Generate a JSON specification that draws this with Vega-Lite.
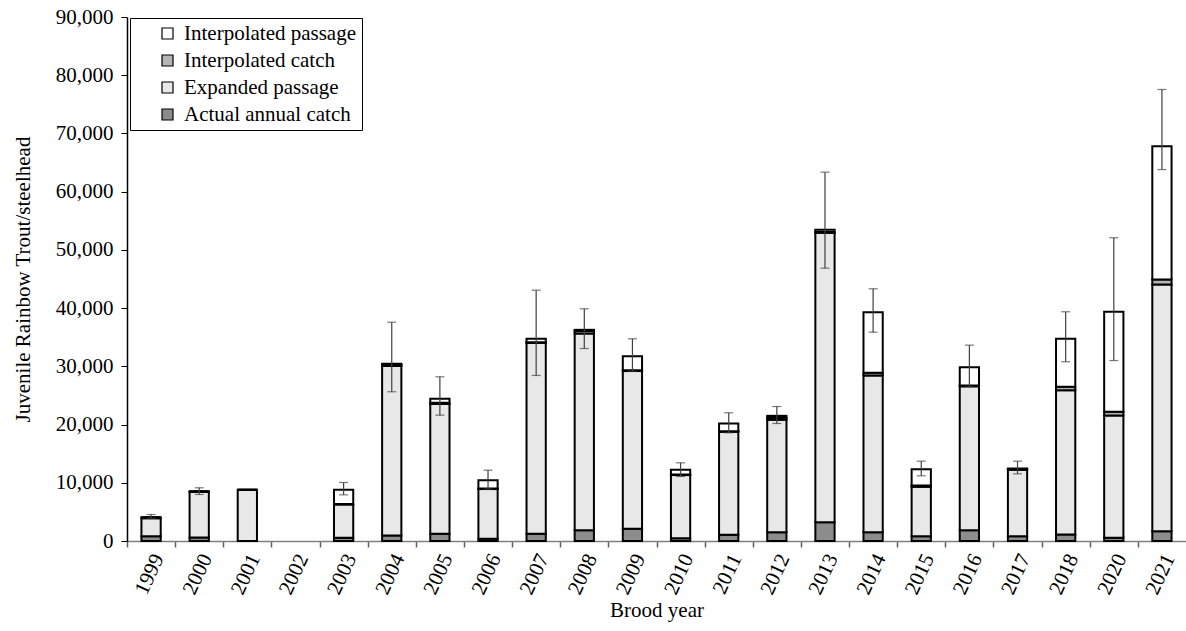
{
  "$schema": "https://vega.github.io/schema/vega-lite/v6.json",
  "width": 1059,
  "height": 524,
  "autosize": {"type": "none"},
  "padding": {"left": 127, "top": 17, "right": 0, "bottom": 90},
  "background": "white",
  "config": {
    "font": "'Liberation Serif', 'Times New Roman', serif",
    "view": {"stroke": null},
    "axis": {"grid": false, "labelFont": "'Liberation Serif', 'Times New Roman', serif", "titleFont": "'Liberation Serif', 'Times New Roman', serif"},
    "legend": {
      "orient": "none",
      "legendX": 3,
      "legendY": 1,
      "labelFontSize": 21,
      "labelFont": "'Liberation Serif', 'Times New Roman', serif",
      "labelColor": "black",
      "labelLimit": 0,
      "symbolType": "square",
      "symbolSize": 121,
      "symbolStrokeColor": "black",
      "symbolStrokeWidth": 1.2,
      "strokeColor": "black",
      "fillColor": "white",
      "padding": 5,
      "rowPadding": 5,
      "symbolOffset": 22,
      "labelOffset": 6
    }
  },
  "data": {
    "values": [
      {"year": "1999", "Actual annual catch": 800, "Expanded passage": 3100, "Interpolated catch": 200, "Interpolated passage": 0, "lo": 3900, "hi": 4550},
      {"year": "2000", "Actual annual catch": 600, "Expanded passage": 7800, "Interpolated catch": 150, "Interpolated passage": 0, "lo": 7990, "hi": 9140},
      {"year": "2001", "Actual annual catch": 0, "Expanded passage": 8790, "Interpolated catch": 0, "Interpolated passage": 0},
      {"year": "2003", "Actual annual catch": 550, "Expanded passage": 5720, "Interpolated catch": 100, "Interpolated passage": 2420, "lo": 7930, "hi": 10050},
      {"year": "2004", "Actual annual catch": 940, "Expanded passage": 29100, "Interpolated catch": 250, "Interpolated passage": 140, "lo": 25630, "hi": 37580},
      {"year": "2005", "Actual annual catch": 1240, "Expanded passage": 22300, "Interpolated catch": 190, "Interpolated passage": 690, "lo": 21610, "hi": 28200},
      {"year": "2006", "Actual annual catch": 380, "Expanded passage": 8540, "Interpolated catch": 100, "Interpolated passage": 1420, "lo": 8900, "hi": 12160},
      {"year": "2007", "Actual annual catch": 1230, "Expanded passage": 32800, "Interpolated catch": 120, "Interpolated passage": 580, "lo": 28430, "hi": 43080},
      {"year": "2008", "Actual annual catch": 1860, "Expanded passage": 33800, "Interpolated catch": 400, "Interpolated passage": 210, "lo": 33060, "hi": 39880},
      {"year": "2009", "Actual annual catch": 2090, "Expanded passage": 27100, "Interpolated catch": 150, "Interpolated passage": 2400, "lo": 29170, "hi": 34730},
      {"year": "2010", "Actual annual catch": 490, "Expanded passage": 10830, "Interpolated catch": 100, "Interpolated passage": 810, "lo": 11080, "hi": 13430},
      {"year": "2011", "Actual annual catch": 1060, "Expanded passage": 17700, "Interpolated catch": 100, "Interpolated passage": 1320, "lo": 18580, "hi": 22020},
      {"year": "2012", "Actual annual catch": 1510, "Expanded passage": 19300, "Interpolated catch": 350, "Interpolated passage": 340, "lo": 20180, "hi": 23100},
      {"year": "2013", "Actual annual catch": 3230, "Expanded passage": 49700, "Interpolated catch": 150, "Interpolated passage": 370, "lo": 46860, "hi": 63350},
      {"year": "2014", "Actual annual catch": 1520, "Expanded passage": 26900, "Interpolated catch": 470, "Interpolated passage": 10410, "lo": 35870, "hi": 43320},
      {"year": "2015", "Actual annual catch": 830, "Expanded passage": 8500, "Interpolated catch": 200, "Interpolated passage": 2810, "lo": 11200, "hi": 13710},
      {"year": "2016", "Actual annual catch": 1860, "Expanded passage": 24700, "Interpolated catch": 150, "Interpolated passage": 3150, "lo": 26500, "hi": 33640},
      {"year": "2017", "Actual annual catch": 830, "Expanded passage": 11400, "Interpolated catch": 100, "Interpolated passage": 120, "lo": 11540, "hi": 13710},
      {"year": "2018", "Actual annual catch": 1120, "Expanded passage": 24780, "Interpolated catch": 580, "Interpolated passage": 8250, "lo": 30780, "hi": 39370},
      {"year": "2020", "Actual annual catch": 550, "Expanded passage": 21010, "Interpolated catch": 630, "Interpolated passage": 17180, "lo": 31000, "hi": 52080},
      {"year": "2021", "Actual annual catch": 1690, "Expanded passage": 42370, "Interpolated catch": 860, "Interpolated passage": 22890, "lo": 63800, "hi": 77550}
    ]
  },
  "encoding": {
    "x": {
      "field": "year",
      "type": "nominal",
      "scale": {
        "domain": ["1999", "2000", "2001", "2002", "2003", "2004", "2005", "2006", "2007", "2008", "2009", "2010", "2011", "2012", "2013", "2014", "2015", "2016", "2017", "2018", "2020", "2021"],
        "paddingInner": 0.6,
        "paddingOuter": 0.3
      },
      "axis": {
        "title": "Brood year",
        "titleFontSize": 21,
        "titleFontWeight": "normal",
        "titleColor": "black",
        "titlePadding": 2,
        "labelAngle": -65,
        "labelFontSize": 21,
        "labelColor": "black",
        "bandPosition": 0,
        "labelOffset": 21.6,
        "labelPadding": 8,
        "ticks": true,
        "tickOffset": -14.4,
        "tickSize": 6,
        "tickWidth": 1.5,
        "tickColor": "#606060",
        "domainColor": "#808080",
        "domainWidth": 1.5
      }
    }
  },
  "layer": [
    {
      "transform": [
        {"fold": ["Actual annual catch", "Expanded passage", "Interpolated catch", "Interpolated passage"], "as": ["series", "value"]}
      ],
      "mark": {"type": "bar", "stroke": "black", "strokeWidth": 2},
      "encoding": {
        "y": {
          "field": "value",
          "type": "quantitative",
          "stack": "zero",
          "scale": {"domain": [0, 90000], "nice": false},
          "axis": {
            "title": "Juvenile Rainbow Trout/steelhead",
            "titleFontSize": 21,
            "titleFontWeight": "normal",
            "titleColor": "black",
            "titlePadding": 22,
            "values": [0, 10000, 20000, 30000, 40000, 50000, 60000, 70000, 80000, 90000],
            "format": ",.0f",
            "labelFontSize": 21,
            "labelColor": "black",
            "labelPadding": 8,
            "tickSize": 6,
            "tickColor": "black",
            "domainColor": "black",
            "domainWidth": 1.5
          }
        },
        "fill": {
          "field": "series",
          "type": "nominal",
          "scale": {
            "domain": ["Interpolated passage", "Interpolated catch", "Expanded passage", "Actual annual catch"],
            "range": ["#ffffff", "#b4b4b4", "#e8e8e8", "#8c8c8c"]
          },
          "legend": {"title": null}
        },
        "order": {"field": "series", "sort": "ascending"}
      }
    },
    {
      "mark": {"type": "rule", "color": "#404040", "strokeWidth": 1.2},
      "encoding": {
        "y": {"field": "lo", "type": "quantitative"},
        "y2": {"field": "hi"}
      }
    },
    {
      "mark": {"type": "tick", "color": "#404040", "thickness": 1.2, "size": 9},
      "encoding": {"y": {"field": "hi", "type": "quantitative"}}
    },
    {
      "mark": {"type": "tick", "color": "#404040", "thickness": 1.2, "size": 9},
      "encoding": {"y": {"field": "lo", "type": "quantitative"}}
    }
  ]
}
